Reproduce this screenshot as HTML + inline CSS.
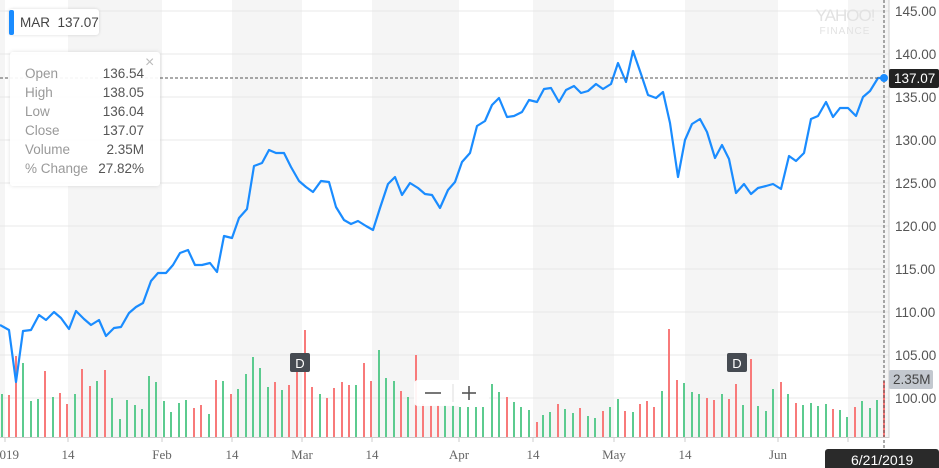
<!DOCTYPE html>
<html><head><meta charset="utf-8"><style>
body{margin:0;width:939px;height:468px;overflow:hidden;background:#fff;font-family:"Liberation Sans",sans-serif}
</style></head><body>
<svg id="s" width="939" height="468" xmlns="http://www.w3.org/2000/svg" style="position:absolute;left:0;top:0">
<g fill="#f5f5f5">
<rect x="0" y="0" width="5" height="437"/>
<rect x="68" y="0" width="94" height="437"/>
<rect x="232" y="0" width="70" height="437"/>
<rect x="372" y="0" width="87" height="437"/>
<rect x="533" y="0" width="81" height="437"/>
<rect x="685" y="0" width="93" height="437"/>
<rect x="848" y="0" width="41" height="437"/>
</g>
<g stroke="#e8e8e8" stroke-width="1">
<line x1="0" x2="889" y1="11" y2="11"/><line x1="0" x2="889" y1="54" y2="54"/>
<line x1="0" x2="889" y1="97" y2="97"/><line x1="0" x2="889" y1="140" y2="140"/>
<line x1="0" x2="889" y1="183" y2="183"/><line x1="0" x2="889" y1="226" y2="226"/>
<line x1="0" x2="889" y1="269" y2="269"/><line x1="0" x2="889" y1="312" y2="312"/>
<line x1="0" x2="889" y1="355" y2="355"/><line x1="0" x2="889" y1="398" y2="398"/>
</g>
<text x="845" y="21" text-anchor="middle" font-size="17" fill="#e2e2e2" letter-spacing="-1">YAHOO!</text>
<text x="845" y="34" text-anchor="middle" font-size="10" fill="#e2e2e2" letter-spacing="1">FINANCE</text>
<g id="vol"></g>
<polyline fill="none" stroke="#1a8cff" stroke-width="2.2" stroke-linejoin="round" points="0,325 9,330 16,382 23,331 31,330 39,315 46,320 54,312 61,318 69,329 76,311 84,319 91,325 99,320 106,336 114,328 121,327 129,313 136,307 143,303 151,281 158,273 166,273 173,265 180,253 188,250 195,265 202,265 210,263 217,272 224,236 232,238 239,218 247,209 254,166 262,163 269,150 276,153 284,153 291,167 299,181 306,187 313,192 321,181 329,182 336,207 344,220 351,224 358,221 366,226 373,230 380,208 388,184 395,177 402,195 410,183 418,188 425,194 432,195 440,208 448,190 455,182 462,162 470,153 477,126 485,121 492,105 499,98 507,117 514,116 522,112 529,100 537,102 544,89 551,88 559,102 566,90 574,86 581,93 588,91 596,84 603,89 611,84 618,63 626,82 633,51 641,74 648,95 656,98 663,92 670,123 678,177 685,140 692,124 700,119 707,132 715,158 722,145 729,159 736,193 744,184 751,194 758,188 766,186 773,184 781,189 789,156 796,161 804,153 811,119 818,116 826,102 833,117 840,108 848,108 856,116 863,97 870,91 878,78 884,78"/>
<line x1="0" x2="884" y1="78" y2="78" stroke="#555" stroke-dasharray="3,2" stroke-width="1"/>
<line x1="884" x2="884" y1="0" y2="450" stroke="#555" stroke-dasharray="3,2" stroke-width="1"/>
<circle cx="884" cy="78" r="4" fill="#1a8cff"/>
<line x1="889" x2="889" y1="0" y2="438" stroke="#ccc"/>
<line x1="0" x2="889" y1="437.5" y2="437.5" stroke="#ccc"/>
<g stroke="#ccc"><line x1="5" x2="5" y1="437" y2="442"/><line x1="68" x2="68" y1="437" y2="442"/><line x1="162" x2="162" y1="437" y2="442"/><line x1="232" x2="232" y1="437" y2="442"/><line x1="302" x2="302" y1="437" y2="442"/><line x1="372" x2="372" y1="437" y2="442"/><line x1="459" x2="459" y1="437" y2="442"/><line x1="533" x2="533" y1="437" y2="442"/><line x1="614" x2="614" y1="437" y2="442"/><line x1="685" x2="685" y1="437" y2="442"/><line x1="778" x2="778" y1="437" y2="442"/><line x1="848" x2="848" y1="437" y2="442"/></g>
<g font-family="Liberation Serif,serif" font-size="13" fill="#666" text-anchor="middle">
<text x="6" y="459">2019</text><text x="68" y="459">14</text><text x="162" y="459">Feb</text><text x="232" y="459">14</text><text x="302" y="459">Mar</text><text x="372" y="459">14</text><text x="459" y="459">Apr</text><text x="533" y="459">14</text><text x="614" y="459">May</text><text x="685" y="459">14</text><text x="778" y="459">Jun</text>
</g>
<g font-size="13.5" fill="#555">
<text x="895" y="16">145.00</text><text x="895" y="59">140.00</text><text x="895" y="102">135.00</text><text x="895" y="145">130.00</text><text x="895" y="188">125.00</text><text x="895" y="231">120.00</text><text x="895" y="274">115.00</text><text x="895" y="317">110.00</text><text x="895" y="360">105.00</text><text x="895" y="403">100.00</text>
</g>
<rect x="889" y="69" width="50" height="19" rx="2" fill="#222"/>
<text x="894" y="83" font-size="13.5" fill="#fff">137.07</text>
<rect x="889" y="370" width="44" height="19" rx="2" fill="#c3c8cf"/>
<text x="893" y="384" font-size="13.5" fill="#444">2.35M</text>
<rect x="825" y="449" width="114" height="22" rx="3" fill="#2a2a2a"/>
<text x="851" y="465" font-size="14" fill="#fff">6/21/2019</text>
<rect x="290" y="353" width="20" height="19" rx="2" fill="#464b52"/>
<text x="300" y="368" font-size="13" fill="#fff" text-anchor="middle">D</text>
<rect x="727" y="353" width="20" height="19" rx="2" fill="#464b52"/>
<text x="737" y="368" font-size="13" fill="#fff" text-anchor="middle">D</text>
<rect x="414" y="380" width="75" height="26" rx="4" fill="#fff" fill-opacity="0.92"/>
<line x1="425" x2="441" y1="393" y2="393" stroke="#555" stroke-width="1.6"/>
<line x1="453" x2="453" y1="384" y2="402" stroke="#ddd"/>
<line x1="462" x2="476" y1="393" y2="393" stroke="#555" stroke-width="1.6"/>
<line x1="469" x2="469" y1="386" y2="400" stroke="#555" stroke-width="1.6"/>
</svg>
<div style="position:absolute;left:9px;top:9px;width:90px;height:26px;background:#fff;border-radius:3px;box-shadow:0 0 3px rgba(0,0,0,.15)"></div>
<div style="position:absolute;left:9px;top:10px;width:5px;height:25px;background:#1a8cff;border-radius:2px"></div>
<div style="position:absolute;left:20px;top:15px;font-size:13.5px;color:#444">MAR&nbsp; 137.07</div>
<div style="position:absolute;left:10px;top:52px;width:150px;height:134px;background:rgba(255,255,255,.93);border-radius:3px;box-shadow:0 0 4px rgba(0,0,0,.12)"></div>
<div style="position:absolute;left:145px;top:54px;font-size:16px;color:#bbb">×</div>
<div style="position:absolute;left:25px;top:64px;font-size:13.5px;line-height:19px;color:#999">Open<br>High<br>Low<br>Close<br>Volume<br>% Change</div>
<div style="position:absolute;left:80px;width:64px;top:64px;font-size:13.5px;line-height:19px;color:#555;text-align:right">136.54<br>138.05<br>136.04<br>137.07<br>2.35M<br>27.82%</div>
<script>
var d=[[2,394,'g'],[9,395,'r'],[16,356,'r'],[23,363,'g'],[31,401,'g'],[38,399,'g'],[45,371,'r'],[53,397,'g'],[60,393,'r'],[67,404,'r'],[75,394,'g'],[82,369,'r'],[90,386,'r'],[97,381,'g'],[105,370,'r'],[112,398,'g'],[120,419,'g'],[127,400,'g'],[135,405,'g'],[142,409,'g'],[149,376,'g'],[156,382,'g'],[164,401,'g'],[171,412,'g'],[179,403,'g'],[186,400,'g'],[194,408,'r'],[201,405,'r'],[209,414,'g'],[216,380,'r'],[223,381,'g'],[231,394,'r'],[238,389,'g'],[246,374,'g'],[253,357,'g'],[260,368,'g'],[268,387,'g'],[275,382,'r'],[282,390,'g'],[289,385,'r'],[297,357,'r'],[305,330,'r'],[312,387,'r'],[320,394,'g'],[327,398,'r'],[334,388,'r'],[342,382,'r'],[349,385,'r'],[356,385,'g'],[364,363,'r'],[371,381,'r'],[379,350,'g'],[386,378,'g'],[394,381,'g'],[401,391,'r'],[408,397,'g'],[416,355,'r'],[423,404,'r'],[431,405,'r'],[438,405,'r'],[445,405,'g'],[453,405,'g'],[460,407,'g'],[468,407,'g'],[476,407,'g'],[483,407,'g'],[492,384,'g'],[499,392,'g'],[507,397,'r'],[514,402,'g'],[521,407,'g'],[529,410,'g'],[537,422,'r'],[543,415,'g'],[550,412,'g'],[558,404,'r'],[565,409,'g'],[573,413,'g'],[580,408,'r'],[588,416,'g'],[595,418,'g'],[603,411,'r'],[610,407,'g'],[618,399,'g'],[625,411,'r'],[633,412,'g'],[640,404,'r'],[647,401,'r'],[654,407,'r'],[662,391,'g'],[669,329,'r'],[677,380,'r'],[684,383,'g'],[692,392,'g'],[699,394,'g'],[707,398,'r'],[714,400,'r'],[722,394,'g'],[729,399,'r'],[736,384,'r'],[743,405,'g'],[751,359,'r'],[758,406,'g'],[766,411,'g'],[773,389,'g'],[781,382,'r'],[788,394,'g'],[796,403,'r'],[803,405,'g'],[811,403,'g'],[818,406,'g'],[826,404,'g'],[833,409,'r'],[840,410,'g'],[847,417,'g'],[855,407,'r'],[862,401,'g'],[870,408,'g'],[877,400,'g'],[884,381,'r']];
var g=document.getElementById('vol'),h='';
d.forEach(function(b){h+='<rect x="'+(b[0]-1)+'" y="'+b[1]+'" width="2" height="'+(437-b[1])+'" fill="'+(b[2]=='g'?'#5ccb8f':'#f87a7a')+'"/>';});
g.innerHTML=h;
</script>
</body></html>
